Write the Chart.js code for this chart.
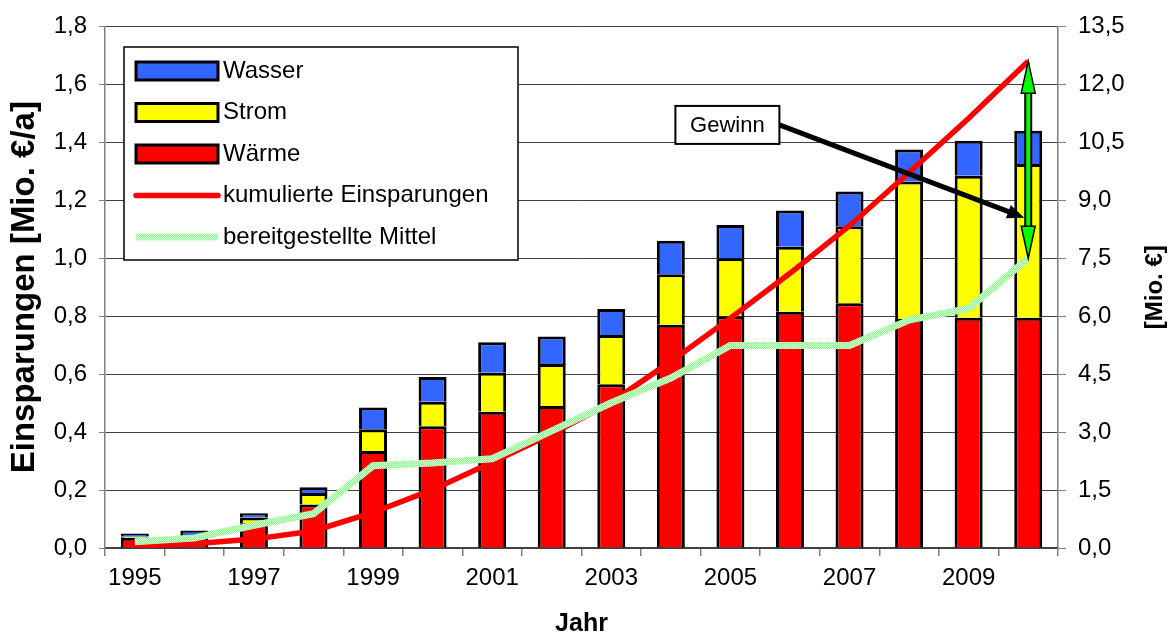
<!DOCTYPE html>
<html lang="de">
<head>
    <meta charset="UTF-8">
    <title>Einsparungen</title>
    <script src="https://cdn.jsdelivr.net/npm/chart.js"></script>
    <style>
        html, body { margin: 0; padding: 0; background: #fff; }
        .chart-box { position: relative; width: 1174px; height: 639px; }
    </style>
</head>
<body>
    <div class="chart-box">
        <canvas id="savingsChart"></canvas>
    </div>

    <script>
        // Daten
        const jahre = ['1995', '1996', '1997', '1998', '1999', '2000', '2001', '2002',
                       '2003', '2004', '2005', '2006', '2007', '2008', '2009', '2010'];
        const waerme = [0.035, 0.04, 0.085, 0.15, 0.335, 0.42, 0.47, 0.49,
                        0.565, 0.77, 0.80, 0.815, 0.845, 0.79, 0.795, 0.795];
        const strom = [0.005, 0.005, 0.02, 0.04, 0.075, 0.085, 0.135, 0.145,
                       0.17, 0.175, 0.20, 0.225, 0.265, 0.475, 0.49, 0.53];
        const wasser = [0.01, 0.015, 0.015, 0.02, 0.075, 0.085, 0.105, 0.095,
                        0.09, 0.115, 0.115, 0.125, 0.12, 0.11, 0.12, 0.115];
        const kumuliert = [0.05, 0.11, 0.23, 0.44, 0.92, 1.51, 2.22, 2.95,
                           3.77, 4.83, 5.95, 7.11, 8.34, 9.72, 11.12, 12.6];
        const mittel = [0.16, 0.26, 0.59, 0.89, 2.13, 2.2, 2.31, 3.03,
                        3.76, 4.4, 5.24, 5.24, 5.24, 5.9, 6.2, 7.5];
        const linksTicks = { min: 0, max: 1.8, step: 0.2 };
        const rechtsTicks = { min: 0, max: 13.5, step: 1.5 };

        const FONT = '"Liberation Sans", Arial, sans-serif';
        Chart.defaults.font.family = FONT;
        Chart.defaults.font.size = 24;
        Chart.defaults.color = '#000';

        // hellgruenes Punktmuster fuer "bereitgestellte Mittel"
        function makePattern() {
            const c = document.createElement('canvas');
            c.width = 2; c.height = 2;
            const p = c.getContext('2d');
            p.fillStyle = '#8cff8c'; p.fillRect(0, 0, 2, 2);
            p.fillStyle = '#d6ffd6'; p.fillRect(0, 0, 1, 1); p.fillRect(1, 1, 1, 1);
            return p.createPattern(c, 'repeat');
        }
        const gruen = makePattern();

        const komma = v => Number(v).toFixed(1).replace('.', ',');

        function arrowHead(ctx, x1, y1, x2, y2, len, half) {
            const a = Math.atan2(y2 - y1, x2 - x1);
            ctx.beginPath();
            ctx.moveTo(x2, y2);
            ctx.lineTo(x2 - len * Math.cos(a) + half * Math.sin(a), y2 - len * Math.sin(a) - half * Math.cos(a));
            ctx.lineTo(x2 - len * Math.cos(a) - half * Math.sin(a), y2 - len * Math.sin(a) + half * Math.cos(a));
            ctx.closePath();
        }

        const extras = {
            id: 'extras',
            afterDatasetsDraw(chart) {
                const ctx = chart.ctx;
                const xs = chart.scales.x, yl = chart.scales.y, yr = chart.scales.y1;
                const last = jahre.length - 1;
                ctx.save();

                // Gewinn-Kasten
                const gx = xs.getPixelForValue(10) - 3, gy = yl.getPixelForValue(1.46);
                const bx = gx - 52, by = gy - 19, bw = 104, bh = 38;

                // schwarzer Pfeil
                const tx = xs.getPixelForValue(last) - 4, ty = yl.getPixelForValue(1.14);
                ctx.strokeStyle = '#000'; ctx.fillStyle = '#000';
                ctx.lineWidth = 5;
                ctx.beginPath();
                ctx.moveTo(bx + bw, gy);
                const a = Math.atan2(ty - gy, tx - bx - bw);
                ctx.lineTo(tx - 14 * Math.cos(a), ty - 14 * Math.sin(a));
                ctx.stroke();
                arrowHead(ctx, bx + bw, gy, tx, ty, 17, 7);
                ctx.fill();

                ctx.fillStyle = '#fff';
                ctx.fillRect(bx, by, bw, bh);
                ctx.lineWidth = 2;
                ctx.strokeRect(bx, by, bw, bh);
                ctx.fillStyle = '#000';
                ctx.font = '22px ' + FONT;
                ctx.textAlign = 'center'; ctx.textBaseline = 'middle';
                ctx.fillText('Gewinn', gx, gy + 1);

                // gruener Doppelpfeil
                const ax = xs.getPixelForValue(last);
                const top = yr.getPixelForValue(kumuliert[last]);
                const bot = yr.getPixelForValue(mittel[last]);
                ctx.lineWidth = 8; ctx.strokeStyle = '#000';
                ctx.beginPath(); ctx.moveTo(ax, top + 28); ctx.lineTo(ax, bot - 28); ctx.stroke();
                ctx.lineWidth = 4; ctx.strokeStyle = '#00ff00';
                ctx.beginPath(); ctx.moveTo(ax, top + 26); ctx.lineTo(ax, bot - 26); ctx.stroke();
                ctx.fillStyle = '#00ff00'; ctx.strokeStyle = '#000'; ctx.lineWidth = 1.5;
                arrowHead(ctx, ax, bot, ax, top, 32, 7); ctx.fill(); ctx.stroke();
                arrowHead(ctx, ax, top, ax, bot, 32, 7); ctx.fill(); ctx.stroke();

                // Legende
                const lx = 124, ly = 47, lw = 394, lh = 213;
                ctx.fillStyle = '#fff';
                ctx.fillRect(lx, ly, lw, lh);
                ctx.strokeStyle = '#000'; ctx.lineWidth = 1.5;
                ctx.strokeRect(lx, ly, lw, lh);
                const eintraege = [
                    { text: 'Wasser', box: '#3366ff' },
                    { text: 'Strom', box: '#ffff00' },
                    { text: 'Wärme', box: '#ff0000' },
                    { text: 'kumulierte Einsparungen', line: '#ff0000' },
                    { text: 'bereitgestellte Mittel', line: gruen }
                ];
                ctx.font = '24px ' + FONT;
                ctx.textAlign = 'left'; ctx.textBaseline = 'middle';
                eintraege.forEach((e, i) => {
                    const cy = ly + 24 + i * 41.5;
                    if (e.box) {
                        ctx.fillStyle = e.box;
                        ctx.fillRect(136, cy - 9, 82, 18);
                        ctx.strokeStyle = '#000'; ctx.lineWidth = 3;
                        ctx.strokeRect(136, cy - 9, 82, 18);
                    } else {
                        ctx.strokeStyle = e.line;
                        ctx.lineWidth = e.line === gruen ? 7 : 5.5;
                        ctx.lineCap = e.line === gruen ? 'butt' : 'round';
                        ctx.beginPath(); ctx.moveTo(136, cy); ctx.lineTo(218, cy); ctx.stroke();
                        ctx.lineCap = 'butt';
                    }
                    ctx.fillStyle = '#000';
                    ctx.fillText(e.text, 223, cy);
                });
                ctx.restore();
            },
            afterDraw(chart) {
                // rechter Achsentitel, von unten nach oben
                const ctx = chart.ctx;
                const a = chart.chartArea;
                ctx.save();
                ctx.translate(1155, (a.top + a.bottom) / 2);
                ctx.rotate(-Math.PI / 2);
                ctx.font = 'bold 24px ' + FONT;
                ctx.fillStyle = '#000';
                ctx.textAlign = 'center'; ctx.textBaseline = 'middle';
                ctx.fillText('[Mio. €]', 0, 0);
                ctx.restore();
            }
        };

        const barBase = { stack: 'a', yAxisID: 'y', borderColor: '#000', borderWidth: 3,
                          barPercentage: 0.47, categoryPercentage: 1, order: 2 };

        new Chart(document.getElementById('savingsChart'), {
            type: 'bar',
            data: {
                labels: jahre,
                datasets: [
                    { ...barBase, label: 'Wärme', data: waerme, backgroundColor: '#ff0000' },
                    { ...barBase, label: 'Strom', data: strom, backgroundColor: '#ffff00', borderSkipped: 'start' },
                    { ...barBase, label: 'Wasser', data: wasser, backgroundColor: '#3366ff', borderSkipped: 'start' },
                    { type: 'line', label: 'kumulierte Einsparungen', data: kumuliert, yAxisID: 'y1',
                      borderColor: '#ff0000', borderWidth: 5.5, pointRadius: 0, tension: 0, order: 1 },
                    { type: 'line', label: 'bereitgestellte Mittel', data: mittel, yAxisID: 'y1',
                      borderColor: gruen, borderWidth: 7, pointRadius: 0, tension: 0, order: 0 }
                ]
            },
            options: {
                responsive: true,
                maintainAspectRatio: false,
                animation: false,
                layout: { padding: { top: 23, left: 0, right: 0, bottom: 0 } },
                plugins: { legend: { display: false }, tooltip: { enabled: false } },
                scales: {
                    x: {
                        stacked: true,
                        grid: { drawOnChartArea: false, drawTicks: true, tickLength: 8, color: '#808080', lineWidth: 1.5 },
                        border: { color: '#404040', width: 1.5 },
                        ticks: {
                            autoSkip: false, maxRotation: 0, padding: 8,
                            callback: (v, i) => (i % 2 === 0 ? jahre[i] : '')
                        },
                        title: { display: true, text: 'Jahr', font: { weight: 'bold', size: 25 }, padding: { top: 0, bottom: 0 } },
                        afterFit: s => { s.height = 91; }
                    },
                    y: {
                        stacked: true,
                        position: 'left',
                        min: linksTicks.min, max: linksTicks.max,
                        ticks: { stepSize: linksTicks.step, padding: 12, callback: komma },
                        grid: { color: '#404040', lineWidth: 1, tickLength: 6, tickColor: '#808080' },
                        border: { color: '#808080', width: 1.5 },
                        title: { display: true, text: 'Einsparungen [Mio. €/a]', font: { weight: 'bold', size: 33 }, padding: { top: 5, bottom: 0 } },
                        afterFit: s => { s.width = 105; }
                    },
                    y1: {
                        position: 'right',
                        min: rechtsTicks.min, max: rechtsTicks.max,
                        ticks: { stepSize: rechtsTicks.step, padding: 12, callback: komma },
                        grid: { drawOnChartArea: false, tickLength: 8, color: '#808080' },
                        border: { color: '#808080', width: 1.5 },
                        afterFit: s => { s.width = 116; }
                    }
                }
            },
            plugins: [extras]
        });
    </script>
</body>
</html>
